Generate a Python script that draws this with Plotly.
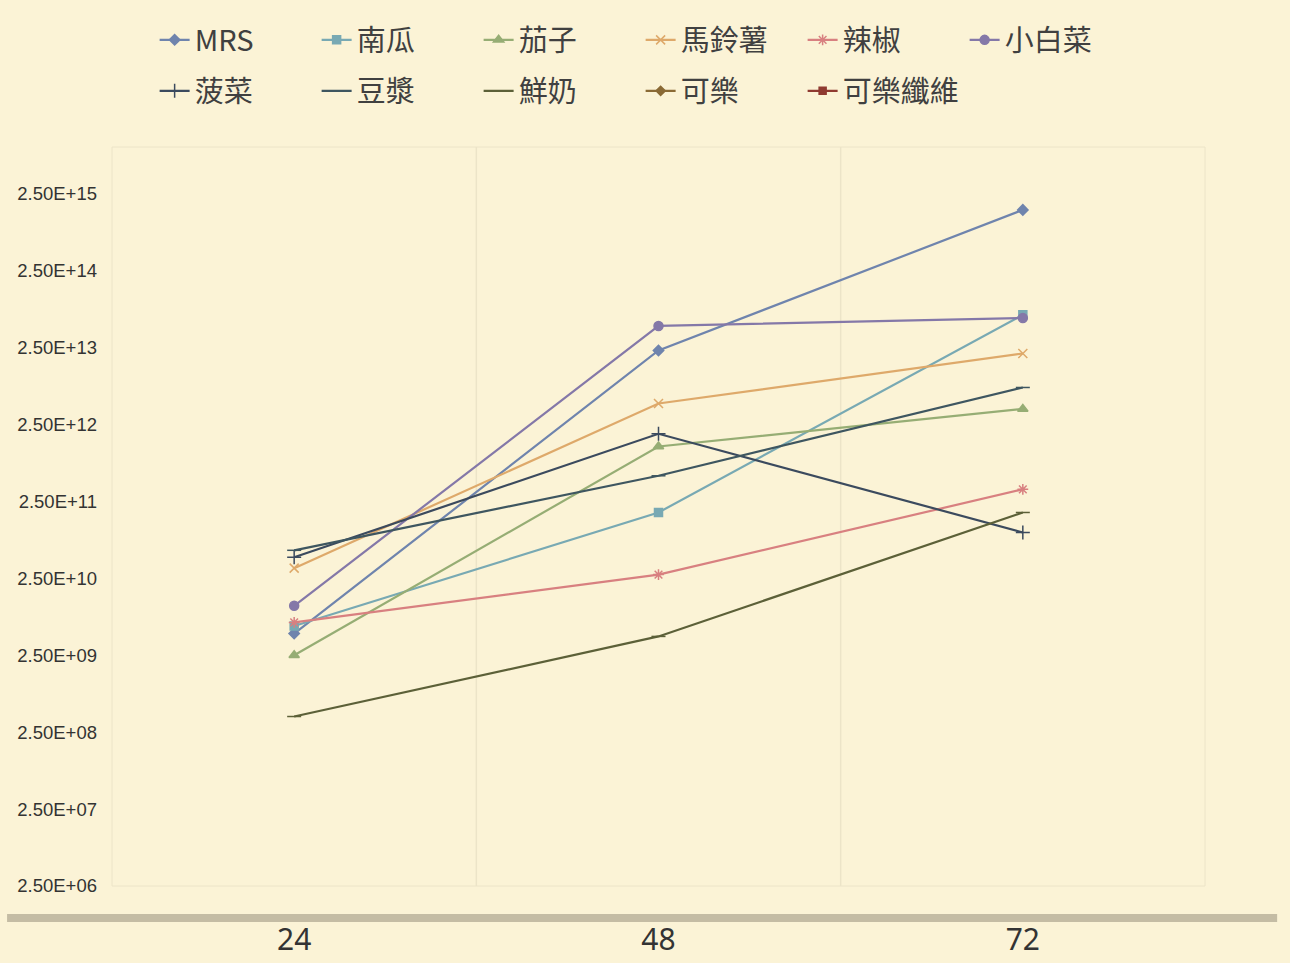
import plotly.graph_objects as go

# Incubation time (hours)
hours = ["24", "48", "72"]

# Bacterial counts per medium
mrs = [4.8e9, 2.3e13, 1.55e15]
pumpkin = [6.0e9, 1.8e11, 6.7e13]
eggplant = [2.5e9, 1.3e12, 4.0e12]
potato = [3.4e10, 4.7e12, 2.1e13]
chili = [6.7e9, 2.8e10, 3.6e11]
bokchoy = [1.1e10, 4.8e13, 6.1e13]
spinach = [4.7e10, 1.9e12, 9.9e10]
soymilk = [5.8e10, 5.4e11, 7.6e12]
milk = [4.0e8, 4.4e9, 1.8e11]
cola = [None, None, None]
cola_fiber = [None, None, None]

series = [
    ("MRS", mrs, "#6f84ad", "diamond", 8),
    ("南瓜", pumpkin, "#78a9b3", "square", 8),
    ("茄子", eggplant, "#96ad74", "triangle-up", 9),
    ("馬鈴薯", potato, "#dea96a", "x-thin", 9),
    ("辣椒", chili, "#d88080", "asterisk", 9),
    ("小白菜", bokchoy, "#8478a8", "circle", 9),
    ("菠菜", spinach, "#3b4a5e", "cross-thin", 10),
    ("豆漿", soymilk, "#3e5660", "line-ew", 10),
    ("鮮奶", milk, "#5c6038", "line-ew", 10),
    ("可樂", cola, "#8a6a35", "diamond", 7),
    ("可樂纖維", cola_fiber, "#8f3a30", "square", 7),
]

fig = go.Figure()
for i, (name, vals, color, sym, size) in enumerate(series):
    fig.add_trace(go.Scatter(
        x=hours, y=vals, name=name, mode="lines+markers",
        legend="legend" if i < 6 else "legend2",
        line=dict(color=color, width=2.2),
        marker=dict(symbol=sym, size=size, color=color,
                    line=dict(color=color, width=1.5)),
    ))

tickvals = [2.5 * 10 ** k for k in range(6, 16)]
ticktext = ["2.50E+%02d" % k for k in range(6, 16)]

legend_style = dict(
    orientation="h", xanchor="left", yanchor="middle",
    entrywidth=117, entrywidthmode="pixels",
    font=dict(size=29, color="#404040"),
    bgcolor="rgba(0,0,0,0)", itemwidth=30,
)

bg = "#fbf3d6"
fig.update_layout(
    width=1290, height=963,
    paper_bgcolor=bg, plot_bgcolor=bg,
    margin=dict(l=112, r=85, t=147, b=77),
    font=dict(family="Noto Sans CJK TC, Noto Sans, sans-serif", color="#404040"),
    showlegend=True,
    legend=dict(legend_style, x=0.039, y=1 + (147 - 40) / 739),
    legend2=dict(legend_style, x=0.039, y=1 + (147 - 91) / 739),
    xaxis=dict(
        type="category", range=[-0.5, 2.5], automargin=False,
        showgrid=False, zeroline=False, showline=False,
        ticks="", tickfont=dict(size=30, color="#333333",
                                family="Liberation Sans Narrow, Noto Sans, sans-serif"),
        ticklabelstandoff=33,
    ),
    yaxis=dict(
        type="log", range=[6.398, 16.008], automargin=False,
        tickvals=tickvals, ticktext=ticktext,
        showgrid=False, zeroline=False, showline=False,
        ticks="", tickfont=dict(size=18.5, color="#333333",
                                family="Liberation Sans, Arial, sans-serif"),
        ticklabelstandoff=14,
    ),
)

# Faint plot-area frame and category separators
grid = "#ece4c8"
fig.add_shape(type="rect", xref="paper", yref="paper", x0=0, x1=1, y0=0, y1=1,
              line=dict(color=grid, width=1), layer="below")
for xv in [0.5, 1.5]:
    fig.add_shape(type="line", xref="x", yref="paper", x0=xv, x1=xv, y0=0, y1=1,
                  line=dict(color=grid, width=1.5), layer="below")

# Heavy baseline bar beneath the plot
fig.add_shape(type="line", xref="paper", yref="paper",
              x0=-0.096, x1=1.066, y0=-0.0433, y1=-0.0433,
              line=dict(color="#c4bca4", width=8))

fig.write_html("out.html")
